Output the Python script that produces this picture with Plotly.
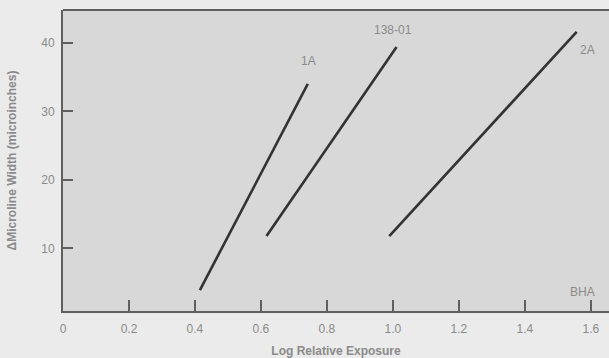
import plotly.graph_objects as go

# Line endpoints (log relative exposure, delta microline width)
series_names = ["1A", "138-01", "2A"]
log_exposure = [[0.415, 0.742], [0.617, 1.011], [0.989, 1.557]]
delta_width = [[3.9, 34.0], [11.8, 39.4], [11.8, 41.6]]

x_ticks = [0, 0.2, 0.4, 0.6, 0.8, 1.0, 1.2, 1.4, 1.6]
x_tick_text = ["0", "0.2", "0.4", "0.6", "0.8", "1.0", "1.2", "1.4", "1.6"]
y_ticks = [10, 20, 30, 40]

FONT = "Liberation Sans, Arial, Helvetica, sans-serif"
LINE_COLOR = "#333333"
TEXT_COLOR = "#8a8a8a"
AXIS_COLOR = "#5f5f5f"

fig = go.Figure()
for name, xs, ys in zip(series_names, log_exposure, delta_width):
    fig.add_trace(go.Scatter(x=xs, y=ys, mode="lines", name=name,
                             line=dict(color=LINE_COLOR, width=2.6),
                             showlegend=False, hoverinfo="skip"))

# Curve labels placed beside the upper ends of the lines
label_pos = {"1A": (0.745, 37.3, "center"), "138-01": (1.0, 41.9, "center"), "2A": (1.59, 39.0, "center")}
for name, (lx, ly, al) in label_pos.items():
    fig.add_annotation(x=lx, y=ly, text=name, showarrow=False, xanchor=al,
                       font=dict(family=FONT, size=12, color=TEXT_COLOR))
fig.add_annotation(x=1.575, y=3.6, text="BHA", showarrow=False,
                   font=dict(family=FONT, size=12, color=TEXT_COLOR))

# Top border of the plotting area
fig.add_shape(type="line", xref="paper", yref="paper", x0=0, x1=1, y0=1, y1=1,
              line=dict(color=AXIS_COLOR, width=2))

fig.update_xaxes(range=[0, 1.655], tickvals=x_ticks, ticktext=x_tick_text,
                 ticks="inside", ticklen=11, tickwidth=2, tickcolor=AXIS_COLOR,
                 showline=True, linecolor=AXIS_COLOR, linewidth=2,
                 showgrid=False, zeroline=False, ticklabelstandoff=6,
                 tickfont=dict(family=FONT, size=12, color=TEXT_COLOR),
                 title=dict(text="<b>Log Relative Exposure</b>", standoff=12,
                            font=dict(family=FONT, size=12, color=TEXT_COLOR)))
fig.update_yaxes(range=[0.85, 44.8], tickvals=y_ticks,
                 ticks="inside", ticklen=10, tickwidth=2, tickcolor=AXIS_COLOR,
                 showline=True, linecolor=AXIS_COLOR, linewidth=2,
                 showgrid=False, zeroline=False, ticklabelstandoff=4,
                 tickfont=dict(family=FONT, size=12, color=TEXT_COLOR),
                 title=dict(text="<b>ΔMicroline Width (microinches)</b>", standoff=22,
                            font=dict(family=FONT, size=12, color=TEXT_COLOR)))

fig.update_layout(width=609, height=358,
                  margin=dict(l=63, r=0, t=10, b=47),
                  paper_bgcolor="#ebebeb", plot_bgcolor="#d8d8d8")

fig.write_html("out.html")
